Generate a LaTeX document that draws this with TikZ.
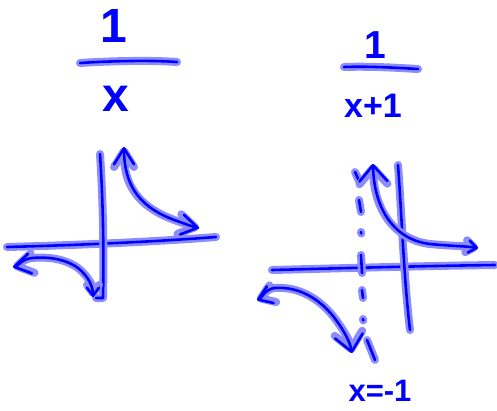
\documentclass[tikz,border=0pt]{standalone}
\usepackage{fontspec}
\newfontfamily\sketchfont{Liberation Sans}
\usetikzlibrary{arrows.meta}
\tikzset{
  halo/.style={draw=blue!45,line width=8pt,line cap=round,line join=round},
  core/.style={draw=blue,line width=2.6pt,line cap=round,line join=round},
  lbl/.style={text=blue,inner sep=0pt,font=\sketchfont\bfseries\fontsize{#1}{#1}\selectfont},
  tipL/.tip={Straight Barb[length=16pt,width=20pt,round]},
  tipM/.tip={Straight Barb[length=13pt,width=18pt,round]},
  tipW/.tip={Straight Barb[length=16pt,width=28pt,round]},
  tipS/.tip={Straight Barb[length=8pt,width=12pt,round]},
}
% one pen stroke: light rim first, then the blue core
\newcommand\stroke[2][]{\draw[halo,#1] #2; \draw[core,#1] #2;}
\begin{document}
\begin{tikzpicture}[x=1pt,y=-1pt]
  \useasboundingbox (0,0) rectangle (497,410);
  % 1/x
  \node[lbl=48] (numL) at (114,26) {1};
  \stroke{(80,63) .. controls (110,61) and (150,60) .. (177,62)}
  \node[lbl=48] (denL) at (116,99) {x};
  % its axes
  \stroke{(7,247) .. controls (80,245) and (150,242) .. (216,237)}
  \stroke{(100,154) .. controls (103,200) and (104,250) .. (103,298) -- (96,298)}
  % its branches
  \stroke[{tipL}-{tipL}]{(124,147) .. controls (124,195) and (150,212) .. (180,222)
    .. controls (188,225) and (194,227) .. (199,228)}
  \stroke[{tipL}-{tipS}]{(13,267) .. controls (18,266) and (22,259) .. (32,258)
    .. controls (55,256) and (70,262) .. (78,268) .. controls (88,276) and (93,286) .. (93,297)}
  % 1/(x+1)
  \node[lbl=39] (numR) at (375,45) {1};
  \stroke{(344,67) .. controls (370,66) and (400,68) .. (418,69)}
  \node[lbl=34] (denR) at (373,106) {x+1};
  % its axes
  \stroke{(272,270) .. controls (350,268) and (420,266) .. (495,265)}
  \stroke{(398,165) .. controls (402,220) and (404,280) .. (410,330)}
  % asymptote x=-1, dash-dot
  \foreach \xa/\ya/\xb/\yb in {355/172/360/183,359/200/361/212,361/255/362/273,362/290/363/298,367/340/375/360}
    {\stroke{(\xa,\ya) -- (\xb,\yb)}}
  \foreach \x/\y in {361/232,363/319}
    {\stroke{(\x,\y) -- ++(0.3,1.5)}}
  % its branches
  \stroke[{tipW}-{tipS}]{(373,164) .. controls (374,210) and (395,240) .. (430,244)
    .. controls (450,246) and (465,246) .. (478,248)}
  \stroke[{tipM}-{tipW}]{(257,300) .. controls (262,298) and (264,290) .. (274,288)
    .. controls (300,286) and (320,300) .. (333,316) .. controls (344,330) and (350,342) .. (352,353)}
  \node[lbl=31] (asymL) at (380,391) {x=-1};
\end{tikzpicture}
\end{document}
